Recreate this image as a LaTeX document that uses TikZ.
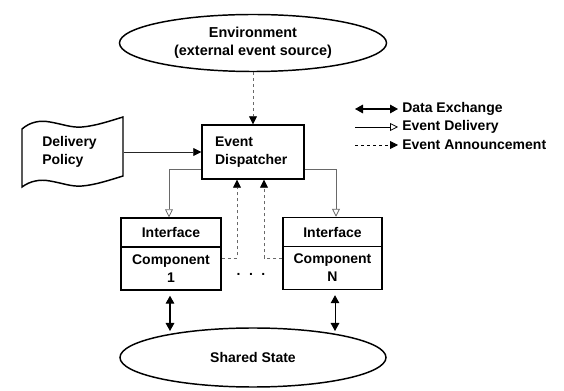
\documentclass[tikz,border=0pt]{standalone}
\usepackage{fontspec}
\setmainfont{Liberation Sans}
\usetikzlibrary{arrows.meta,shapes.geometric}
\definecolor{linegray}{RGB}{105,105,105}
\begin{document}
\begin{tikzpicture}[x=0.75pt,y=-0.75pt,
  every node/.style={font=\fontsize{10.5}{13.5}\selectfont\bfseries},
  box/.style={draw,line width=1.1pt,inner sep=0pt,align=center},
  oval/.style={draw,ellipse,line width=1.1pt,inner sep=0pt,align=center},
  ann/.style={draw=linegray,line width=0.6pt,dash pattern=on 2.25pt off 2.25pt,
    -{Triangle[length=6pt,width=6pt,fill=black,color=black]}},
  deliv/.style={draw=linegray,line width=0.6pt,
    -{Triangle[open,length=6pt,width=6pt]}},
  solidarr/.style={draw=black!85,line width=0.6pt,
    -{Triangle[length=6pt,width=6pt,color=black]}},
  data/.style={draw=black,line width=0.8pt,
    {Triangle[length=6pt,width=6.5pt]}-{Triangle[length=6pt,width=6.5pt]}},
  legtext/.style={anchor=west,inner sep=0pt}
]
\useasboundingbox (0,0) rectangle (564,391);

% Environment
\node[oval,minimum width=200.25pt,minimum height=42.75pt,
  font=\fontsize{10.8}{13.8}\selectfont\bfseries] (env) at (253,43)
  {Environment\\(external event source)};

% Event dispatcher
\node[box,align=left,text width=57pt,inner xsep=9.75pt,minimum height=40.5pt] (disp) at (253,152)
  {Event\\Dispatcher};

% Delivery policy (wavy document shape)
\draw[line width=1.1pt]
  (22,129) .. controls (30,122) and (40,120) .. (50,122)
  .. controls (62,124) and (72,128) .. (82,127)
  .. controls (95,126) and (110,121) .. (123,117)
  -- (123,176)
  .. controls (110,180) and (95,185) .. (82,186)
  .. controls (72,187) and (62,183) .. (50,181)
  .. controls (40,179) and (30,181) .. (22,187)
  -- cycle;
\node[anchor=west,align=left,inner sep=0pt] (policy) at (42,152) {Delivery\\Policy};
\coordinate (polE) at (124,152);

% Components
\node[box,minimum width=75pt,minimum height=21.75pt] (iface1) at (171,232.5) {Interface};
\node[box,minimum width=75pt,minimum height=32.25pt] (comp1) at (171,268.5) {Component\\1};
\node[box,minimum width=74.25pt,minimum height=21.75pt] (ifaceN) at (332.5,232) {Interface};
\node[box,minimum width=74.25pt,minimum height=32.25pt] (compN) at (332.5,268) {Component\\N};

\node[inner sep=0pt,anchor=base] (dots) at (251,276) {.\hspace{6.4pt}.\hspace{6.4pt}.};

% Shared state
\node[oval,minimum width=199.5pt,minimum height=44.25pt] (shared) at (253,357.5) {Shared State};

% Connectors
\draw[ann] (env.south) -- (disp.north);
\draw[solidarr] (polE) -- (disp.west);

\coordinate (b1) at (169,169);
\coordinate (b2) at (336,169);
\draw[deliv] (b1 -| disp.west) -- (b1) -- (b1 |- iface1.north);
\draw[deliv] (b2 -| disp.east) -- (b2) -- (b2 |- ifaceN.north);

\coordinate (j1) at (237,258);
\coordinate (j2) at (264,258);
\draw[ann] (j1 -| comp1.east) -- (j1) -- (j1 |- disp.south);
\draw[ann] (j2 -| compN.west) -- (j2) -- (j2 |- disp.south);

\coordinate (d1) at (170,331);
\coordinate (d2) at (335,331);
\draw[data] ([yshift=-3.75pt]comp1.south -| d1) -- (d1);
\draw[data,line width=0.6pt] ([yshift=-3.75pt]compN.south -| d2) -- (d2);

% Legend
\node[legtext] (lgD) at (402,109) {Data Exchange};
\node[legtext] (lgE) at (402,127) {Event Delivery};
\node[legtext] (lgA) at (402,145) {Event Announcement};
\coordinate (l1) at (355,109);
\coordinate (l2) at (355,127);
\coordinate (l3) at (355,145);
\draw[data] (l1) -- ([xshift=-3pt]lgD.west);
\draw[deliv,draw=black] (l2) -- ([xshift=-3pt]lgE.west);
\draw[ann,draw=black] (l3) -- ([xshift=-3pt]lgA.west);
\end{tikzpicture}
\end{document}
